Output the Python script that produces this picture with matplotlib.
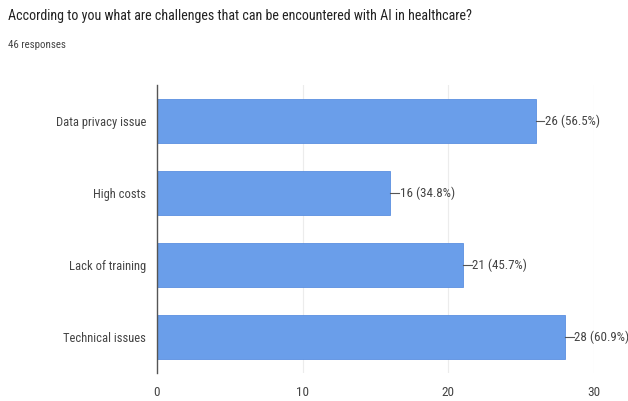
import matplotlib
matplotlib.use("Agg")
import matplotlib.pyplot as plt

categories = ["Data privacy issue", "High costs", "Lack of training", "Technical issues"]
counts = [26, 16, 21, 28]
percents = [56.5, 34.8, 45.7, 60.9]
total_responses = 46
xticks = [0, 10, 20, 30]

plt.rcParams["font.family"] = ["Roboto Condensed", "Roboto", "DejaVu Sans"]

fig = plt.figure(figsize=(6.28, 4.01), dpi=100)
W, H = 628, 401
left, right = 157 / W, 594 / W
top, bottom = 1 - 85 / H, 1 - 373 / H
ax = fig.add_axes([left, bottom, right - left, top - bottom])

bar_color = "#6a9eea"
y = list(range(len(categories)))
ax.barh(y, counts, height=0.62, color=bar_color, edgecolor="#5b8fe0", linewidth=0.6, zorder=2)
ax.set_ylim(len(categories) - 0.5, -0.5)
ax.set_xlim(0, 30)

ax.set_xticks(xticks)
ax.set_xticklabels([str(t) for t in xticks])
ax.set_yticks(y)
ax.set_yticklabels(categories)
ax.tick_params(axis="both", length=0, colors="#444444")
ax.tick_params(axis="x", pad=9, labelsize=9.5)
ax.tick_params(axis="y", pad=8, labelsize=9)

for t in xticks[1:]:
    ax.axvline(t, color="#ececec", linewidth=0.8, zorder=0)

for s in ["top", "right", "bottom"]:
    ax.spines[s].set_visible(False)
ax.spines["left"].set_color("#555555")
ax.spines["left"].set_linewidth(1.0)

for yi, c, p in zip(y, counts, percents):
    ax.plot([c, c + 0.6], [yi, yi], color="#555555", linewidth=0.8, zorder=3, clip_on=False)
    ax.text(c + 0.65, yi, f"{c} ({p}%)", va="center", ha="left", fontsize=9.4,
            color="#444444", clip_on=False)

fig.text(8 / W, 1 - 16 / H, "According to you what are challenges that can be encountered with AI in healthcare?",
         fontsize=10.1, color="#222222", va="center", ha="left")
fig.text(8 / W, 1 - 45 / H, f"{total_responses} responses", fontsize=7.8, color="#444444",
         va="center", ha="left")

fig.savefig("out.png", dpi=100, facecolor="white")
